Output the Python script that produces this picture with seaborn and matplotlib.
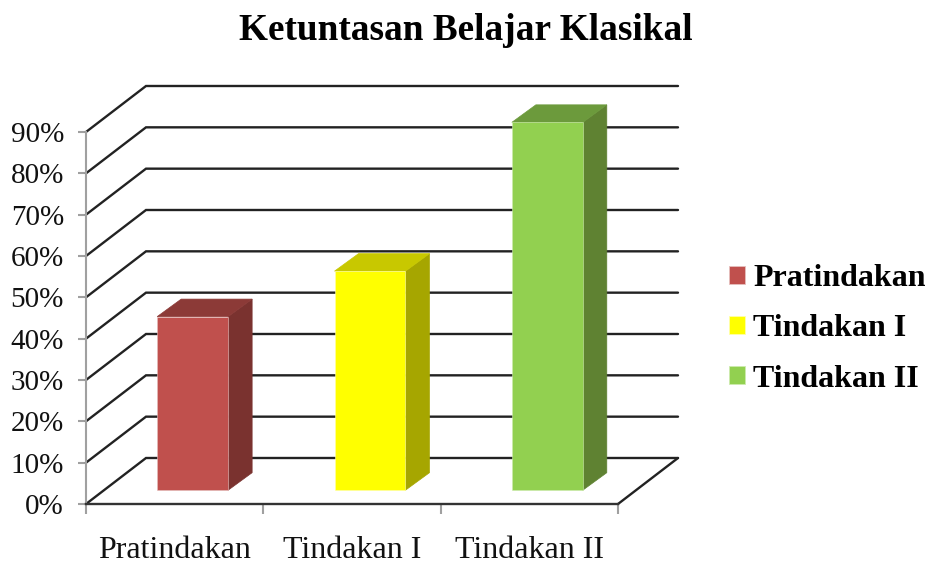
import numpy as np
import pandas as pd
import matplotlib
matplotlib.use('Agg')
import matplotlib.pyplot as plt
from matplotlib.patches import Patch
import seaborn as sns

title = 'Ketuntasan Belajar Klasikal'
categories = ['Pratindakan', 'Tindakan I', 'Tindakan II']
values = [42, 53, 89]
y_ticks = [0, 10, 20, 30, 40, 50, 60, 70, 80, 90]
face_colors = ['#C0504D', '#FFFF00', '#92D050']
side_colors = ['#7A322F', '#A6A600', '#5F8232']
top_colors = ['#8C3A37', '#C8C800', '#6C9A3C']
edge_colors = ['#E6BFBE', '#FFFFA8', '#CDEBAE']


def draw_walls(ax, dx, dy):
    for v in y_ticks:
        ax.plot([-0.5, -0.5 + dx, 2.5 + dx], [v, v + dy, v + dy], color='#222222',
                lw=1.7, clip_on=False, zorder=1, solid_joinstyle='miter')
    ax.plot([2.5, 2.5 + dx], [0, dy], color='#222222', lw=1.7, clip_on=False, zorder=1)


def draw_depth(ax, bars, dx, dy):
    for bar, side, top in zip(bars, side_colors, top_colors):
        x0, x1 = bar.get_x(), bar.get_x() + bar.get_width()
        y0, y1 = bar.get_y(), bar.get_y() + bar.get_height()
        ax.fill([x1, x1 + dx, x1 + dx, x1], [y0, y0 + dy, y1 + dy, y1], facecolor=side,
                edgecolor=side, lw=0.5, clip_on=False, zorder=3)
        ax.fill([x0, x0 + dx, x1 + dx, x1], [y1, y1 + dy, y1 + dy, y1], facecolor=top,
                edgecolor=top, lw=0.5, clip_on=False, zorder=3)


def main():
    sns.set_style('white')
    plt.rcParams['font.family'] = ['Liberation Serif', 'DejaVu Serif']

    fig = plt.figure(figsize=(9.28, 5.66), dpi=100)
    ax = fig.add_axes([86 / 928, 62 / 566, 532 / 928, 372 / 566])

    df = pd.DataFrame({'kategori': categories, 'nilai': values})
    sns.barplot(data=df, x='kategori', y='nilai', hue='kategori', order=categories,
                hue_order=categories, palette=face_colors, width=0.4, dodge=False,
                legend=False, saturation=1, ax=ax, zorder=4)
    ax.set_xlim(-0.5, 2.5)
    ax.set_ylim(0, 90)

    # depth of the floor, and how far the bars stand back on it
    wall_dx, wall_dy = 60 / 177.33, 46 / 4.133
    bar_dx, bar_dy = 24 / 177.33, 17.5 / 4.133
    shift_x, shift_y = 0.3 * wall_dx, 0.3 * wall_dy

    bars = [p for p in ax.patches if p.get_height() > 0]
    bars.sort(key=lambda p: p.get_x())
    for bar, edge in zip(bars, edge_colors):
        bar.set_x(bar.get_x() + shift_x)
        bar.set_y(shift_y)
        bar.set_edgecolor(edge)
        bar.set_linewidth(0.4)
        bar.set_clip_on(False)

    draw_walls(ax, wall_dx, wall_dy)
    draw_depth(ax, bars, bar_dx, bar_dy)

    ax.set_xlabel('')
    ax.set_ylabel('')
    ax.set_yticks(y_ticks)
    ax.set_yticklabels([f'{v}%' for v in y_ticks], fontsize=21)
    ax.tick_params(axis='y', left=True, length=5.8, width=1.5, color='#A0A0A0', pad=10,
                   labelcolor='#111111')
    ax.set_xticks(np.arange(-0.5, 3, 1))
    ax.set_xticklabels([])
    ax.set_xticks(range(3), categories, minor=True, fontsize=23)
    ax.tick_params(axis='x', which='major', bottom=True, length=7.2, width=1.5, color='#A0A0A0')
    ax.tick_params(axis='x', which='minor', bottom=False, length=0, pad=23, labelcolor='#111111')

    sns.despine(ax=ax, top=True, right=True)
    ax.spines['left'].set_color('#A0A0A0')
    ax.spines['left'].set_linewidth(1.5)
    ax.spines['bottom'].set_color('#333333')
    ax.spines['bottom'].set_linewidth(1.7)

    fig.text(466 / 928, 1 - 31 / 566, title, ha='center', va='center', fontsize=26.8,
             fontweight='bold', color='black')

    handles = [Patch(facecolor=c, edgecolor=e, lw=0.6) for c, e in zip(face_colors, edge_colors)]
    fig.legend(handles, categories, loc='center left', bbox_to_anchor=(729 / 928, 1 - 329 / 566),
               frameon=False, handlelength=0.5, handleheight=0.5, handletextpad=0.25,
               labelspacing=0.66, borderpad=0, borderaxespad=0, labelcolor='black',
               prop={'size': 23, 'weight': 'bold'})

    fig.savefig('out.png', dpi=100)


if __name__ == '__main__':
    main()
